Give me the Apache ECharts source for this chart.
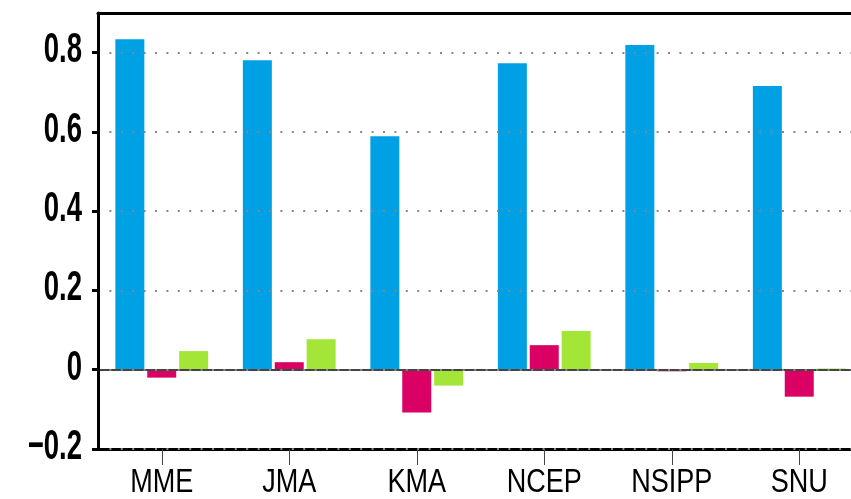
<!DOCTYPE html>
<html>
<head>
<meta charset="utf-8">
<script src="https://cdn.jsdelivr.net/npm/echarts@6/dist/echarts.min.js"></script>
<style>html,body{margin:0;padding:0;background:#fff;}#c{width:851px;height:499px;}</style>
</head>
<body>
<div id="c"></div>
<script>
const categories = ['MME', 'JMA', 'KMA', 'NCEP', 'NSIPP', 'SNU'];
const blueValues = [0.834, 0.781, 0.589, 0.773, 0.819, 0.716];
const pinkValues = [-0.020, 0.019, -0.108, 0.062, -0.004, -0.068];
const greenValues = [0.047, 0.077, -0.040, 0.098, 0.017, 0.003];
const yTicks = [-0.2, 0, 0.2, 0.4, 0.6, 0.8];

const FONT = '"Liberation Sans", Arial, sans-serif';
const chart = echarts.init(document.getElementById('c'), null, {renderer: 'canvas'});
const barW = 29;
const mk = (name, data, color, extra) => Object.assign({
  name, type: 'bar', data, barWidth: barW, barGap: '10%',
  itemStyle: {color}, emphasis: {disabled: true}, animation: false
}, extra || {});
const fmtY = v => (Math.abs(v) < 1e-9 ? '0' : v.toFixed(1).replace('-', '\u2212'));

chart.setOption({
  animation: false,
  grid: {left: 98, right: -12, top: 13, bottom: 50, containLabel: false, outerBoundsMode: 'none'},
  xAxis: [{
    type: 'category', data: categories, position: 'bottom',
    axisLine: {show: true, onZero: false, lineStyle: {color: '#000', width: 3}},
    axisTick: {show: true, alignWithLabel: true, length: 16, lineStyle: {color: '#444', width: 1}},
    axisLabel: {show: false},
    splitLine: {show: false}
  }, {
    type: 'category', data: categories, position: 'top',
    axisLine: {show: true, onZero: false, lineStyle: {color: '#000', width: 3}},
    axisTick: {show: false}, axisLabel: {show: false}, splitLine: {show: false}
  }],
  yAxis: {
    type: 'value', min: -0.2, max: 0.9, interval: 0.2, z: 10,
    axisLine: {show: true, lineStyle: {color: '#000', width: 3}},
    axisTick: {show: true, inside: false, length: 6, customValues: yTicks, lineStyle: {color: '#000', width: 3}},
    axisLabel: {show: false},
    splitLine: {show: true, lineStyle: {color: '#888', width: 2, type: [2, 9.4]}}
  },
  series: [
    mk('blue', blueValues, '#00A0E4', {
      markLine: {
        silent: true, symbol: ['none', 'none'], label: {show: false},
        lineStyle: {color: '#444', width: 2, type: 'solid'},
        data: [{yAxis: 0}], z: 5
      }
    }),
    mk('pink', pinkValues, '#DB0064'),
    mk('green', greenValues, '#A4E638')
  ]
});

// Condensed tick labels placed through the axes' own scales
const gridRect = chart.getModel().getComponent('grid').coordinateSystem.getRect();
const elements = [];
yTicks.forEach(v => {
  const py = chart.convertToPixel({yAxisIndex: 0}, v);
  elements.push({
    type: 'text', x: gridRect.x - 16, y: py - 2, scaleX: 0.64, silent: true,
    style: {text: fmtY(v), fontFamily: FONT, fontSize: 43, fontWeight: 'bold', fill: '#000', align: 'right', verticalAlign: 'middle'}
  });
});
categories.forEach(c => {
  const px = chart.convertToPixel({xAxisIndex: 0}, c);
  elements.push({
    type: 'text', x: px, y: gridRect.y + gridRect.height + 34, scaleX: 0.82, silent: true,
    style: {text: c, fontFamily: FONT, fontSize: 33, fill: '#000', align: 'center', verticalAlign: 'middle'}
  });
});
chart.setOption({graphic: {elements}});
</script>
</body>
</html>
